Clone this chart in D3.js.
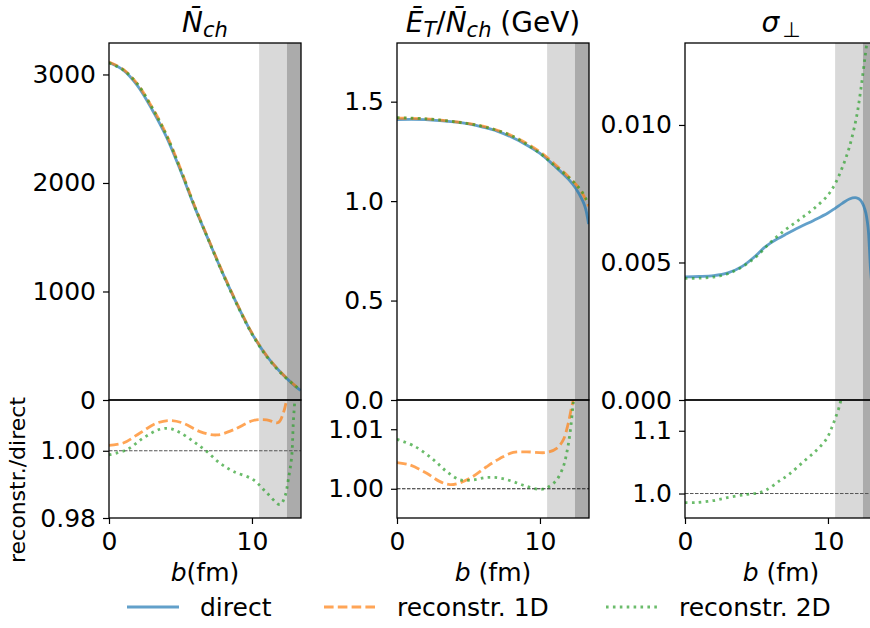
<!DOCTYPE html>
<html>
<head>
<meta charset="utf-8">
<script src="https://cdn.jsdelivr.net/npm/d3@7"></script>
<style>
  body { margin: 0; background: #fff; }
  svg { font-family: "DejaVu Sans", sans-serif; }
</style>
</head>
<body>
<svg width="870" height="628"></svg>
<script>
// ---- data ----
var bNch = [0, 1, 2, 3, 4, 5, 6, 7, 8, 9, 10, 11, 12, 13, 13.4];
var nchDirect = [3110, 3040, 2895, 2680, 2430, 2115, 1775, 1462, 1155, 870, 612, 410, 255, 130, 88];
var nch1D     = [3115, 3047, 2910, 2701, 2452, 2133, 1786, 1469, 1162, 876, 618, 414, 258, 135, 92];
var nch2D     = [3106, 3041, 2911, 2697, 2445, 2124, 1779, 1461, 1150, 865, 607, 405, 251, 133, 91];

var bEt = [0, 1, 2, 3, 4, 5, 6, 7, 8, 9, 10, 11, 12, 12.5, 13, 13.2, 13.4];
var etDirect = [1.410, 1.411, 1.410, 1.405, 1.398, 1.388, 1.372, 1.352, 1.322, 1.285, 1.240, 1.178, 1.110, 1.065, 1.000, 0.960, 0.885];
var bEtRec = [0, 2, 4, 6, 8, 10, 11, 12, 12.5, 13, 13.4];
var et1D = [1.417, 1.414, 1.400, 1.377, 1.330, 1.248, 1.188, 1.123, 1.085, 1.035, 0.975];
var et2D = [1.420, 1.414, 1.399, 1.375, 1.329, 1.240, 1.180, 1.120, 1.085, 1.040, 0.985];

var bSig = [0, 1, 2, 3, 4, 5, 5.5, 6, 6.5, 7, 8, 9, 10, 10.5, 11, 11.5, 12, 12.3, 12.6, 12.8, 13.0, 13.4];
var sigDirect = [0.00448, 0.00449, 0.00452, 0.00462, 0.00486, 0.00527, 0.00552, 0.00571, 0.00587, 0.00601,
                 0.00628, 0.00653, 0.00680, 0.00697, 0.00715, 0.00731, 0.00735, 0.00725, 0.00690, 0.00630, 0.00460, 0.00250];
var bSig2D = [0, 1, 2, 3, 4, 5, 6, 7, 8, 9, 10, 10.5, 11, 11.5, 12, 12.3, 12.6, 12.8];
var sig2D = [0.00442, 0.00443, 0.00447, 0.00459, 0.00484, 0.00522, 0.00574, 0.00618, 0.00656, 0.00695,
             0.00745, 0.00786, 0.00845, 0.00920, 0.01030, 0.01130, 0.01250, 0.01330];

// ratio reconstr./direct
var bR1a = [0, 1, 2.17, 3.33, 4.27, 5.2, 6.36, 7.53, 8.69, 10.09, 11.03, 11.84, 12.19, 12.42, 12.6];
var r1Nch1D = [1.0016, 1.0023, 1.0053, 1.0082, 1.0090, 1.0082, 1.0057, 1.0047, 1.0062, 1.0090, 1.0092, 1.0084, 1.0112, 1.0151, 1.020];
var bR1b = [0, 1.24, 2.4, 3.57, 4.27, 4.97, 5.9, 6.83, 7.76, 8.69, 10.09, 11.03, 11.96, 12.31, 12.54, 12.78, 12.89, 13.0, 13.1];
var r1Nch2D = [0.9988, 1.0003, 1.0038, 1.0064, 1.0066, 1.0054, 1.0028, 0.9998, 0.9963, 0.9939, 0.9914, 0.9875,
               0.9840, 0.9865, 0.9914, 0.9983, 1.0082, 1.0151, 1.020];

var bR2a = [0, 0.91, 2.08, 3.01, 3.71, 4.41, 5.34, 6.27, 7.2, 8.13, 9.07, 10.47, 11.17, 11.63, 11.98, 12.22, 12.33, 12.5];
var r2Et1D = [1.0044, 1.0040, 1.0026, 1.0012, 1.0007, 1.0010, 1.0021, 1.0037, 1.0051, 1.0061, 1.0062, 1.0061,
              1.0068, 1.0082, 1.0110, 1.0138, 1.0149, 1.018];
var bR2b = [0, 1.26, 2.54, 3.47, 4.41, 5.34, 6.27, 7.2, 8.13, 9.07, 10.0, 10.58, 11.17, 11.63, 11.87, 12.1, 12.33, 12.5];
var r2Et2D = [1.0083, 1.0071, 1.0049, 1.0029, 1.0015, 1.0015, 1.0019, 1.0018, 1.0012, 1.0004, 0.9999, 1.0003,
              1.0015, 1.0037, 1.0060, 1.0093, 1.0144, 1.018];

var bR3 = [0, 0.8, 2, 3.15, 4.3, 5.1, 5.7, 6.6, 7.3, 8.3, 9.2, 9.9, 10.25, 10.5, 10.8, 11.0];
var r3Sig2D = [0.9856, 0.9856, 0.9888, 0.9943, 0.9986, 1.0010, 1.0059, 1.0200, 1.031, 1.051, 1.069, 1.087,
               1.104, 1.119, 1.139, 1.16];

var bandLight = [10.5, 12.45], bandDark = [12.45, 13.43];
var legendLabels = ["direct", "reconstr. 1D", "reconstr. 2D"];

// ---- layout ----
var svg = d3.select("svg"),
    pw = 192,
    topY = 43, midY = 400, botY = 518,
    fs = 25;

var styles = {
  direct: { color: "#1f77b4", dash: null },
  r1D:    { color: "#ff7f0e", dash: "9.6,4.2" },
  r2D:    { color: "#2ca02c", dash: "2.6,4.3" }
};

var panels = [
  { left: 109, yMain: [0, 3290], yTicks: [0, 1000, 2000, 3000], yFmt: d3.format("d"),
    yRatio: [0.98, 1.0151], rTicks: [0.98, 1.00], rFmt: d3.format(".2f"),
    title: "nch", xlab: "(fm)",
    main: [["direct", bNch, nchDirect], ["r1D", bNch, nch1D], ["r2D", bNch, nch2D]],
    ratio: [["r1D", bR1a, r1Nch1D], ["r2D", bR1b, r1Nch2D]], refColor: "#555" },
  { left: 397, yMain: [0, 1.795], yTicks: [0, 0.5, 1.0, 1.5], yFmt: d3.format(".1f"),
    yRatio: [0.99509, 1.01491], rTicks: [1.00, 1.01], rFmt: d3.format(".2f"),
    title: "et", xlab: " (fm)",
    main: [["direct", bEt, etDirect], ["r1D", bEtRec, et1D], ["r2D", bEtRec, et2D]],
    ratio: [["r1D", bR2a, r2Et1D], ["r2D", bR2b, r2Et2D]], refColor: "#222" },
  { left: 685, yMain: [0, 0.01298], yTicks: [0, 0.005, 0.010], yFmt: d3.format(".3f"),
    yRatio: [0.961, 1.149], rTicks: [1.0, 1.1], rFmt: d3.format(".1f"),
    title: "sig", xlab: " (fm)",
    main: [["direct", bSig, sigDirect], ["r2D", bSig2D, sig2D]],
    ratio: [["r2D", bR3, r3Sig2D]], refColor: "#555" }
];

panels.forEach(function(p, i) {
  var x = d3.scaleLinear().domain([0, 13.43]).range([p.left, p.left + pw]);
  var yM = d3.scaleLinear().domain(p.yMain).range([midY, topY]);
  var yR = d3.scaleLinear().domain(p.yRatio).range([botY, midY]);

  var defs = svg.append("defs");
  defs.append("clipPath").attr("id", "cm" + i)
    .append("rect").attr("x", p.left).attr("y", topY).attr("width", pw).attr("height", midY - topY);
  defs.append("clipPath").attr("id", "cr" + i)
    .append("rect").attr("x", p.left).attr("y", midY).attr("width", pw).attr("height", botY - midY);

  // shaded b-ranges
  svg.append("rect").attr("x", x(bandLight[0])).attr("y", topY)
    .attr("width", x(bandLight[1]) - x(bandLight[0])).attr("height", botY - topY)
    .attr("fill", "#d9d9d9");
  svg.append("rect").attr("x", x(bandDark[0])).attr("y", topY)
    .attr("width", x(bandDark[1]) - x(bandDark[0])).attr("height", botY - topY)
    .attr("fill", "#ababab");

  // reference line at 1 in ratio panel
  svg.append("line")
    .attr("x1", p.left).attr("x2", p.left + pw)
    .attr("y1", yR(1)).attr("y2", yR(1))
    .attr("stroke", p.refColor).attr("stroke-width", 1).attr("stroke-dasharray", "3.5,1.5");

  function drawSeries(list, yScale, clip) {
    var g = svg.append("g").attr("clip-path", "url(#" + clip + ")");
    list.forEach(function(s) {
      var st = styles[s[0]], bs = s[1], vs = s[2];
      var line = d3.line()
        .x(function(d, k) { return x(bs[k]); })
        .y(function(d) { return yScale(d); })
        .curve(d3.curveCatmullRom.alpha(0.5));
      g.append("path").datum(vs)
        .attr("d", line)
        .attr("fill", "none")
        .attr("stroke", st.color)
        .attr("stroke-opacity", 0.7)
        .attr("stroke-width", 2.8)
        .attr("stroke-dasharray", st.dash);
    });
  }
  drawSeries(p.main, yM, "cm" + i);
  drawSeries(p.ratio, yR, "cr" + i);

  // y axes
  var axM = svg.append("g").attr("transform", "translate(" + p.left + ",0)")
    .call(d3.axisLeft(yM).tickValues(p.yTicks).tickFormat(p.yFmt).tickSize(6).tickPadding(7));
  var axR = svg.append("g").attr("transform", "translate(" + p.left + ",0)")
    .call(d3.axisLeft(yR).tickValues(p.rTicks).tickFormat(p.rFmt).tickSize(6).tickPadding(7));
  var axX = svg.append("g").attr("transform", "translate(0," + botY + ")")
    .call(d3.axisBottom(x).tickValues([0, 10]).tickFormat(d3.format("d")).tickSize(6).tickPadding(8));
  [axM, axR, axX].forEach(function(a) {
    a.select(".domain").remove();
    a.selectAll("line").attr("stroke", "#000").attr("stroke-width", 1.2);
    a.selectAll("text").attr("font-size", fs).attr("font-family", "DejaVu Sans").attr("fill", "#000");
  });

  // frames
  svg.append("rect").attr("x", p.left).attr("y", topY).attr("width", pw).attr("height", midY - topY)
    .attr("fill", "none").attr("stroke", "#000").attr("stroke-width", 1.3);
  svg.append("rect").attr("x", p.left).attr("y", midY).attr("width", pw).attr("height", botY - midY)
    .attr("fill", "none").attr("stroke", "#000").attr("stroke-width", 1.3);

  // title
  var cx = p.left + pw / 2;
  var t = svg.append("text").attr("x", cx).attr("y", 32).attr("text-anchor", "middle")
    .attr("font-size", 28).attr("fill", "#000");
  if (p.title === "nch") {
    t.append("tspan").attr("font-style", "italic").text("N\u0304");
    t.append("tspan").attr("font-style", "italic").attr("font-size", 21).attr("dy", 5).text("ch");
  } else if (p.title === "et") {
    t.append("tspan").attr("font-style", "italic").text("\u0112");
    t.append("tspan").attr("font-style", "italic").attr("font-size", 21).attr("dy", 5).text("T");
    t.append("tspan").attr("dy", -5).text("/");
    t.append("tspan").attr("font-style", "italic").text("N\u0304");
    t.append("tspan").attr("font-style", "italic").attr("font-size", 21).attr("dy", 5).text("ch");
    t.append("tspan").attr("dy", -5).text(" (GeV)");
  } else {
    t.append("tspan").attr("font-style", "italic").text("\u03c3");
    t.append("tspan").attr("font-size", 21).attr("dy", 5).attr("dx", 3)
      .attr("font-family", "DejaVu Sans").attr("fill", "#000").text("\u22a5");
  }

  // x label
  var xl = svg.append("text").attr("x", cx).attr("y", 581).attr("text-anchor", "middle")
    .attr("font-size", fs);
  xl.append("tspan").attr("font-style", "italic").text("b");
  xl.append("tspan").text(p.xlab);
});

// y label
svg.append("text")
  .attr("transform", "translate(25,480) rotate(-90)")
  .attr("text-anchor", "middle")
  .attr("font-size", 22)
  .text("reconstr./direct");

// legend
var legX = [127, 324, 606], legY = 607;
["direct", "r1D", "r2D"].forEach(function(k, i) {
  var st = styles[k];
  svg.append("line")
    .attr("x1", legX[i]).attr("x2", legX[i] + 52)
    .attr("y1", legY).attr("y2", legY)
    .attr("stroke", st.color).attr("stroke-opacity", 0.7).attr("stroke-width", 2.8)
    .attr("stroke-dasharray", st.dash);
  svg.append("text")
    .attr("x", legX[i] + 73).attr("y", legY + 9)
    .attr("font-size", fs)
    .text(legendLabels[i]);
});
</script>
</body>
</html>
